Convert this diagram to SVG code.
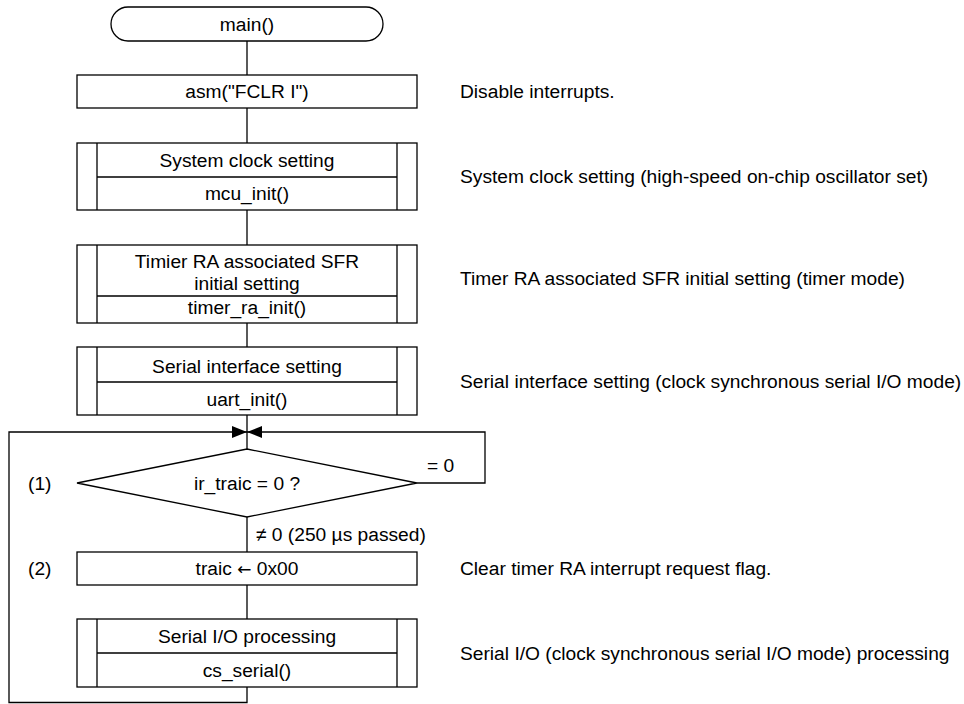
<svg xmlns="http://www.w3.org/2000/svg" width="964" height="704" viewBox="0 0 964 704">
<style>
text{font-family:"Liberation Sans",Arial,sans-serif;font-size:19.2px;fill:#000}
.c{text-anchor:middle}
.s{fill:#fff;stroke:#000;stroke-width:1.3}
.l{fill:none;stroke:#000;stroke-width:1.3}
.a{font-family:"DejaVu Sans",sans-serif;font-size:17px}
</style>
<defs>
<marker id="ah" markerUnits="userSpaceOnUse" markerWidth="15" markerHeight="12" refX="15" refY="6" orient="auto">
<path d="M0,0 L15,6 L0,12 Z" fill="#000"/>
</marker>
</defs>
<rect width="964" height="704" fill="#fff"/>
<g id="connectors">
<path class="l" d="M247,41 V75"/>
<path class="l" d="M247,108 V143"/>
<path class="l" d="M247,210 V245"/>
<path class="l" d="M247,323 V347"/>
<path class="l" d="M247,415 V449"/>
<path class="l" d="M247,517 V552"/>
<path class="l" d="M247,585 V619"/>
<path class="l" d="M247,687 V702.5 H9 V432 H247" marker-end="url(#ah)"/>
<path class="l" d="M417,483 H485 V432 H247" marker-end="url(#ah)"/>
<text x="427" y="472">= 0</text>
<text x="256" y="541">≠ 0 (250 µs passed)</text>
</g>
<g id="n_main">
<rect class="s" x="111" y="7" width="272" height="34" rx="17" ry="17"/>
<text class="c" x="247" y="31">main()</text>
</g>
<g id="n_asm">
<rect class="s" x="77" y="75" width="340" height="33"/>
<text class="c" x="247" y="98">asm("FCLR I")</text>
<text x="460" y="98">Disable interrupts.</text>
</g>
<g id="n_sysclk">
<rect class="s" x="77" y="143" width="340" height="67"/>
<path class="l" d="M97,143 V210 M397,143 V210 M97,177 H397"/>
<text class="c" x="247" y="167">System clock setting</text>
<text class="c" x="247" y="200">mcu_init()</text>
<text x="460" y="183">System clock setting (high-speed on-chip oscillator set)</text>
</g>
<g id="n_timer">
<rect class="s" x="77" y="245" width="340" height="78"/>
<path class="l" d="M97,245 V323 M397,245 V323 M97,296 H397"/>
<text class="c" x="247" y="268">Timier RA associated SFR</text>
<text class="c" x="247" y="290">initial setting</text>
<text class="c" x="247" y="314">timer_ra_init()</text>
<text x="460" y="285">Timer RA associated SFR initial setting (timer mode)</text>
</g>
<g id="n_uart">
<rect class="s" x="77" y="347" width="340" height="68"/>
<path class="l" d="M97,347 V415 M397,347 V415 M97,382 H397"/>
<text class="c" x="247" y="373">Serial interface setting</text>
<text class="c" x="247" y="406">uart_init()</text>
<text x="460" y="388">Serial interface setting (clock synchronous serial I/O mode)</text>
</g>
<g id="n_decision">
<path class="s" d="M247,449 L417,483 L247,517 L77,483 Z"/>
<text class="c" x="247" y="490">ir_traic = 0 ?</text>
<text x="28" y="490">(1)</text>
</g>
<g id="n_clear">
<rect class="s" x="77" y="552" width="340" height="33"/>
<text class="c" x="247" y="575">traic <tspan class="a">←</tspan> 0x00</text>
<text x="28" y="575">(2)</text>
<text x="460" y="575">Clear timer RA interrupt request flag.</text>
</g>
<g id="n_serial">
<rect class="s" x="77" y="619" width="340" height="68"/>
<path class="l" d="M97,619 V687 M397,619 V687 M97,653 H397"/>
<text class="c" x="247" y="643">Serial I/O processing</text>
<text class="c" x="247" y="677">cs_serial()</text>
<text x="460" y="660">Serial I/O (clock synchronous serial I/O mode) processing</text>
</g>
</svg>
